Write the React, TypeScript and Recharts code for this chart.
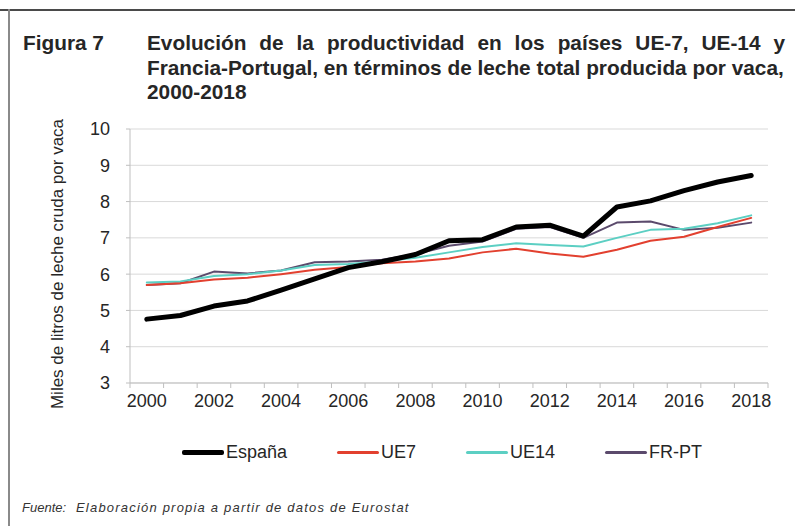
import React from 'react';
import { LineChart, Line, XAxis, YAxis, CartesianGrid } from 'recharts';

const years = ['2000','2001','2002','2003','2004','2005','2006','2007','2008','2009','2010','2011','2012','2013','2014','2015','2016','2017','2018'];
const espana = [4.76, 4.86, 5.12, 5.26, 5.56, 5.87, 6.18, 6.34, 6.54, 6.92, 6.95, 7.3, 7.35, 7.05, 7.85, 8.02, 8.3, 8.54, 8.72];
const ue7 = [5.7, 5.75, 5.85, 5.9, 6.0, 6.12, 6.2, 6.3, 6.35, 6.43, 6.6, 6.7, 6.57, 6.48, 6.67, 6.92, 7.03, 7.3, 7.55];
const ue14 = [5.77, 5.8, 5.95, 6.0, 6.1, 6.25, 6.28, 6.35, 6.45, 6.6, 6.75, 6.85, 6.8, 6.76, 7.0, 7.22, 7.25, 7.4, 7.62];
const frpt = [5.7, 5.75, 6.07, 6.02, 6.1, 6.33, 6.35, 6.4, 6.55, 6.78, 6.9, 7.25, 7.3, 7.0, 7.42, 7.45, 7.22, 7.28, 7.42];
const yTicks = [3, 4, 5, 6, 7, 8, 9, 10];
const labelYears = ['2000','2002','2004','2006','2008','2010','2012','2014','2016','2018'];

const titleLines = [
  'Evolución de la productividad en los países UE-7, UE-14 y',
  'Francia-Portugal, en términos de leche total producida por vaca,',
  '2000-2018',
];
const figLabel = 'Figura 7';
const yTitle = 'Miles de litros de leche cruda por vaca';
const sourceLabel = 'Fuente:';
const sourceText = 'Elaboración propia a partir de datos de Eurostat';

const series = [
  { key: 'espana', name: 'España', values: espana, color: '#000000', width: 5, legendWidth: 5 },
  { key: 'ue7', name: 'UE7', values: ue7, color: '#e2402f', width: 2, legendWidth: 3 },
  { key: 'ue14', name: 'UE14', values: ue14, color: '#5ccfc3', width: 2, legendWidth: 3 },
  { key: 'frpt', name: 'FR-PT', values: frpt, color: '#5b4a6c', width: 2, legendWidth: 3 },
];

const data = years.map((y, i) => {
  const row: any = { year: y };
  series.forEach((s) => { row[s.key] = s.values[i]; });
  return row;
});

const FONT = '"Liberation Sans", Arial, sans-serif';
const W = 795;
const H = 526;
const M = { top: 129, right: 27, bottom: 113, left: 0 };
const Y_W = 130;
const X_H = 30;
const BAND = (W - M.left - M.right - Y_W) / years.length;

const XTick = (props: any) => {
  const { x, y, payload, index } = props;
  const isLast = index === years.length - 1;
  return (
    <g>
      <line x1={x - BAND / 2} x2={x - BAND / 2} y1={y} y2={y + 5} stroke="#bfbfbf" strokeWidth={1} />
      {isLast && <line x1={x + BAND / 2} x2={x + BAND / 2} y1={y} y2={y + 5} stroke="#bfbfbf" strokeWidth={1} />}
      {labelYears.includes(payload.value) && (
        <text x={x} y={y + 24} textAnchor="middle" fontSize={18} fontFamily={FONT} fill="#262626">
          {payload.value}
        </text>
      )}
    </g>
  );
};

export default function App() {
  return (
    <div style={{ position: 'absolute', left: 0, top: 0, width: W, height: H, background: '#fff', overflow: 'hidden', fontFamily: FONT }}>
      <div style={{ position: 'absolute', left: 0, top: 9, width: W, height: 2, background: '#4a4a4a' }} />
      <div style={{ position: 'absolute', left: 8, top: 9, width: 2, height: H - 9, background: '#8a8a8a' }} />

      <div style={{ position: 'absolute', left: 23, top: 31, fontSize: 20.8, fontWeight: 'bold', lineHeight: '24.5px', color: '#262626', whiteSpace: 'nowrap' }}>
        {figLabel}
      </div>
      {titleLines.map((t, i) => (
        <div key={i} style={{
          position: 'absolute', left: 147, top: 31 + i * 24.5, width: 638,
          fontSize: 20.8, fontWeight: 'bold', lineHeight: '24.5px', color: '#262626',
          textAlign: i === 0 ? 'justify' : 'left', textAlignLast: i === 0 ? 'justify' : 'auto', whiteSpace: i === 0 ? 'normal' : 'nowrap',
        } as any}>
          {t}
        </div>
      ))}

      <div style={{ position: 'absolute', left: 0, top: 0 }}>
        <LineChart width={W} height={H} data={data} margin={M}>
          <CartesianGrid vertical={false} stroke="#d9d9d9" strokeWidth={1} />
          <XAxis
            dataKey="year"
            height={X_H}
            interval={0}
            tickSize={0}
            tickMargin={0}
            tickLine={false}
            padding={{ left: BAND / 2, right: BAND / 2 }}
            axisLine={{ stroke: '#bfbfbf', strokeWidth: 1 }}
            tick={<XTick />}
          />
          <YAxis
            type="number"
            domain={[3, 10]}
            ticks={yTicks}
            width={Y_W}
            tickSize={4}
            tickMargin={16}
            tickLine={{ stroke: '#bfbfbf' }}
            axisLine={{ stroke: '#bfbfbf', strokeWidth: 1 }}
            tick={{ fontSize: 18, fontFamily: FONT, fill: '#262626' }}
          />
          {[...series].reverse().map((s) => (
            <Line
              key={s.key}
              dataKey={s.key}
              name={s.name}
              type="linear"
              stroke={s.color}
              strokeWidth={s.width}
              dot={false}
              activeDot={false}
              strokeLinejoin="round"
              strokeLinecap="round"
              isAnimationActive={false}
            />
          ))}
        </LineChart>
      </div>

      <div style={{
        position: 'absolute', left: 58, top: 264, transform: 'translate(-50%, -50%) rotate(-90deg)',
        fontSize: 17, color: '#262626', whiteSpace: 'nowrap', lineHeight: '20px',
      }}>
        {yTitle}
      </div>

      <div style={{ position: 'absolute', left: 182, top: 441, display: 'flex', alignItems: 'center', height: 22 }}>
        {series.map((s) => (
          <div key={s.key} style={{ display: 'flex', alignItems: 'center', marginRight: 50 }}>
            <div style={{ width: 42, height: s.legendWidth, background: s.color, borderRadius: 2 }} />
            <span style={{ marginLeft: 2, fontSize: 18, color: '#262626', lineHeight: '22px' }}>{s.name}</span>
          </div>
        ))}
      </div>

      <div style={{ position: 'absolute', left: 22, top: 500, fontSize: 13, fontStyle: 'italic', color: '#333', whiteSpace: 'nowrap', lineHeight: '16px' }}>
        {sourceLabel}
      </div>
      <div style={{ position: 'absolute', left: 76, top: 500, fontSize: 13, fontStyle: 'italic', color: '#333', whiteSpace: 'nowrap', lineHeight: '16px', letterSpacing: '1.2px' }}>
        {sourceText}
      </div>
    </div>
  );
}
